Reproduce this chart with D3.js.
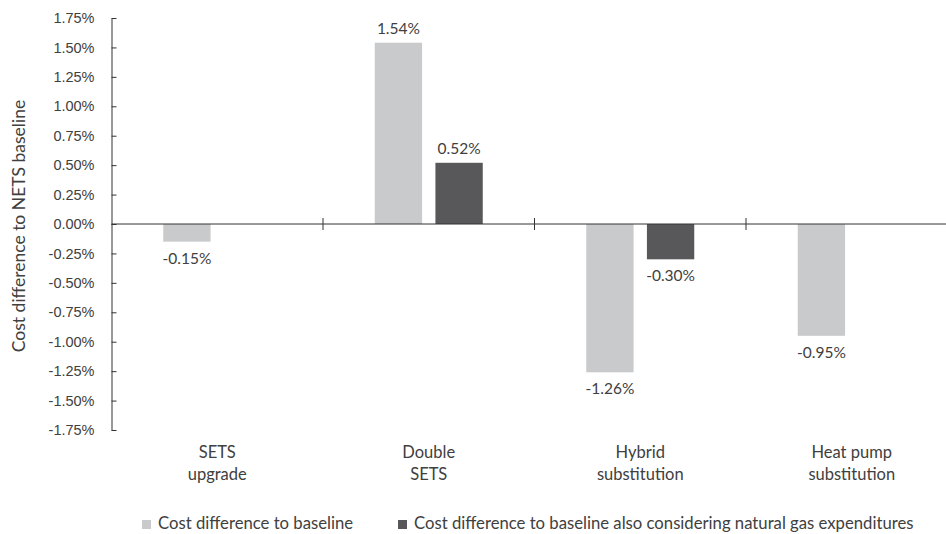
<!DOCTYPE html>
<html>
<head>
<meta charset="utf-8">
<script src="https://cdn.jsdelivr.net/npm/d3@7"></script>
<style>
  body { margin: 0; background: #fff; }
  svg { font-family: Lato, "Open Sans", sans-serif; }
</style>
</head>
<body>
<svg></svg>
<script>
var width = 946;
var height = 534;

var categories = [['SETS', 'upgrade'], ['Double', 'SETS'], ['Hybrid', 'substitution'], ['Heat pump', 'substitution']];
var seriesNames = ['Cost difference to baseline', 'Cost difference to baseline also considering natural gas expenditures'];
var baseValues = [-0.15, 1.54, -1.26, -0.95];
var gasValues = [null, 0.52, -0.30, null];
var yTicks = [1.75, 1.5, 1.25, 1, 0.75, 0.5, 0.25, 0, -0.25, -0.5, -0.75, -1, -1.25, -1.5, -1.75];
var colors = ['#c9cacc', '#58585a'];
var textColor = '#404040';

var fmt = d3.formatLocale({decimal: '.', thousands: ',', grouping: [3], currency: ['', ''], minus: '-'}).format('.2f');
var pct = d => fmt(d) + '%';

var svg = d3.select('svg')
    .attr('width', width)
    .attr('height', height);

var rows = [];
categories.forEach(function (c, i) {
  rows.push({cat: i, series: 0, value: baseValues[i]});
  if (gasValues[i] !== null) rows.push({cat: i, series: 1, value: gasValues[i]});
});

var x0 = d3.scaleBand().domain(d3.range(categories.length)).range([111.5, 957.5]).padding(0);
var bw = x0.bandwidth();
var x1 = d3.scaleBand().domain([0, 1]).range([bw / 2 - 54, bw / 2 + 54]).paddingInner(0.22);
var y = d3.scaleLinear().domain([-1.75, 1.75]).range([430, 18]);

// y axis
var yAxis = d3.axisRight(y)
    .tickValues(yTicks)
    .tickSize(5)
    .tickSizeOuter(0)
    .tickFormat(pct);
var yg = svg.append('g')
    .attr('transform', 'translate(111.5,0)')
    .call(yAxis);
yg.select('.domain').attr('stroke', '#333');
yg.selectAll('.tick line').attr('stroke', '#333');
yg.selectAll('.tick text')
    .attr('x', -17)
    .attr('text-anchor', 'end')
    .attr('fill', textColor)
    .style('font-size', '14.5px');

// bars
svg.append('g')
  .selectAll('rect')
  .data(rows)
  .enter()
  .append('rect')
    .attr('x', d => x0(d.cat) + x1(d.series))
    .attr('width', x1.bandwidth())
    .attr('y', d => y(Math.max(0, d.value)))
    .attr('height', d => Math.abs(y(d.value) - y(0)))
    .attr('fill', d => colors[d.series]);

// value labels
svg.append('g')
  .selectAll('text')
  .data(rows)
  .enter()
  .append('text')
    .attr('x', d => x0(d.cat) + x1(d.series) + x1.bandwidth() / 2)
    .attr('y', d => d.value >= 0 ? y(d.value) - 9 : y(d.value) + 22)
    .attr('text-anchor', 'middle')
    .attr('fill', textColor)
    .style('font-size', '15.5px')
    .text(d => pct(d.value));

// x axis along zero
var xg = svg.append('g')
    .attr('transform', `translate(0,${y(0)})`);
xg.append('line')
    .attr('x1', 111.5).attr('x2', width)
    .attr('stroke', '#333');
xg.selectAll('line.sep')
  .data(d3.range(1, categories.length))
  .enter()
  .append('line')
    .attr('class', 'sep')
    .attr('x1', d => x0(d)).attr('x2', d => x0(d))
    .attr('y1', -6).attr('y2', 6)
    .attr('stroke', '#333');

// category labels
var catText = svg.append('g')
  .selectAll('text')
  .data(categories)
  .enter()
  .append('text')
    .attr('x', (d, i) => x0(i) + bw / 2)
    .attr('text-anchor', 'middle')
    .attr('fill', textColor)
    .style('font-size', '16.5px');
catText.selectAll('tspan')
  .data(d => d)
  .enter()
  .append('tspan')
    .attr('x', function () { return d3.select(this.parentNode).attr('x'); })
    .attr('y', (d, j) => 458 + j * 22)
    .text(d => d);

// y title
svg.append('text')
    .attr('text-anchor', 'middle')
    .attr('transform', 'translate(25,226) rotate(-90)')
    .attr('fill', textColor)
    .style('font-size', '17.5px')
    .text('Cost difference to NETS baseline');

// legend
var legendX = [142, 398];
var lg = svg.append('g')
  .selectAll('g')
  .data(seriesNames)
  .enter()
  .append('g')
    .attr('transform', (d, i) => `translate(${legendX[i]},520)`);
lg.append('rect')
    .attr('width', 9).attr('height', 9)
    .attr('fill', (d, i) => colors[i]);
lg.append('text')
    .attr('x', 16)
    .attr('y', 9)
    .attr('fill', textColor)
    .style('font-size', '16.7px')
    .text(d => d);
</script>
</body>
</html>
